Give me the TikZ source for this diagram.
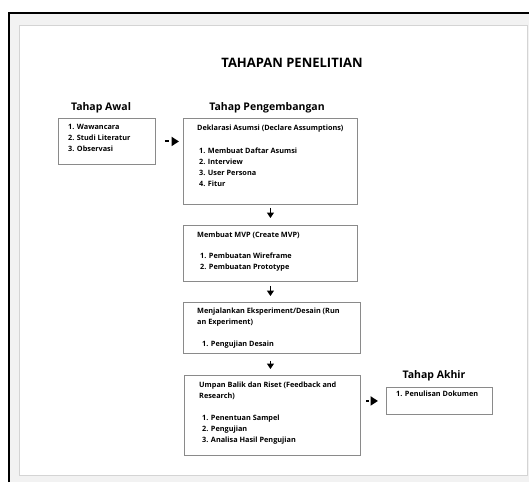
\documentclass[tikz,border=0pt]{standalone}
\usepackage{fontspec}
\setmainfont{Open Sans}
\usetikzlibrary{arrows.meta,calc}
\definecolor{band}{HTML}{F2F2F2}
\definecolor{panelline}{HTML}{D4D4D4}
\definecolor{boxline}{HTML}{8A8A8A}
\begin{document}
\begin{tikzpicture}[x=1pt,y=-1pt,
  box/.style={draw=boxline,line width=0.9pt,rectangle,inner sep=0pt,anchor=north west},
  txt/.style={font=\fontsize{7.3}{10.8}\selectfont\bfseries,inner sep=0pt,anchor=north west,align=left},
  head/.style={font=\fontsize{10.5}{12}\selectfont\bfseries,inner sep=0pt,anchor=base},
  conn/.style={line width=1.5pt,-{Triangle[length=5.5pt,width=7pt]}},
  hconn/.style={line width=2pt,-{Triangle[length=7.5pt,width=9pt]},dash pattern=on 4pt off 20pt}]
\useasboundingbox (0,0) rectangle (529,482);
% frame
\fill[band] (9,13) rectangle (529,482);
\draw[line width=1.5pt] (9,482) -- (9,13) -- (529,13);
\filldraw[fill=white,draw=panelline,line width=1pt] (19,25) rectangle (527,475);
% title and headings
\node[font=\fontsize{13}{15}\selectfont\bfseries,inner sep=0pt,anchor=base] (title) at (292,67.5) {TAHAPAN PENELITIAN};
\node[head] (hawal) at (101,110.5) {Tahap Awal};
\node[head] (hpeng) at (267,110.5) {Tahap Pengembangan};
\node[head] (hakhir) at (434,378.5) {Tahap Akhir};
% boxes
\node[box,minimum width=97pt,minimum height=46pt] (awal) at (58,118) {};
\node[box,minimum width=174pt,minimum height=86pt] (dek) at (183,118) {};
\node[box,minimum width=174pt,minimum height=56pt] (mvp) at (183,225) {};
\node[box,minimum width=177pt,minimum height=51pt] (eks) at (183,302) {};
\node[box,minimum width=176pt,minimum height=80pt] (ump) at (184,375) {};
\node[box,minimum width=106pt,minimum height=27pt] (akhir) at (386,387) {};
% texts
\node[txt] (tawal) at (68,124.2) {1. Wawancara\\2. Studi Literatur\\3. Observasi};
\node[txt] (tdek1) at (197,125) {Deklarasi Asumsi (Declare Assumptions)};
\node[txt] (tdek2) at (199,148) {1. Membuat Daftar Asumsi\\2. Interview\\3. User Persona\\4. Fitur};
\node[txt] (tmvp1) at (197,232) {Membuat MVP (Create MVP)};
\node[txt] (tmvp2) at (200,253) {1. Pembuatan Wireframe\\2. Pembuatan Prototype};
\node[txt] (teks1) at (197,308) {Menjalankan Eksperiment/Desain (Run\\an Experiment)};
\node[txt] (teks2) at (202,341) {1. Pengujian Desain};
\node[txt] (tump1) at (199,382) {Umpan Balik dan Riset (Feedback and\\Research)};
\node[txt] (tump2) at (202,415) {1. Penentuan Sampel\\2. Pengujian\\3. Analisa Hasil Pengujian};
\node[txt] (takhir) at (396,391) {1. Penulisan Dokumen};
% connectors
\draw[hconn,shorten <=9pt,shorten >=4pt] (awal.east) -- (dek.west |- awal.east);
\draw[conn,shorten <=3pt,shorten >=7pt] (dek.south) -- (mvp.north);
\draw[conn,shorten <=4pt,shorten >=6pt] (mvp.south) -- (eks.north -| mvp.south);
\draw[conn,shorten <=7pt,shorten >=6pt] (eks.south -| mvp.south) -- (ump.north -| mvp.south);
\draw[hconn,dash pattern=on 3pt off 20pt,shorten <=5.5pt,shorten >=8pt] (ump.east |- akhir.west) -- (akhir.west);
\end{tikzpicture}
\end{document}
